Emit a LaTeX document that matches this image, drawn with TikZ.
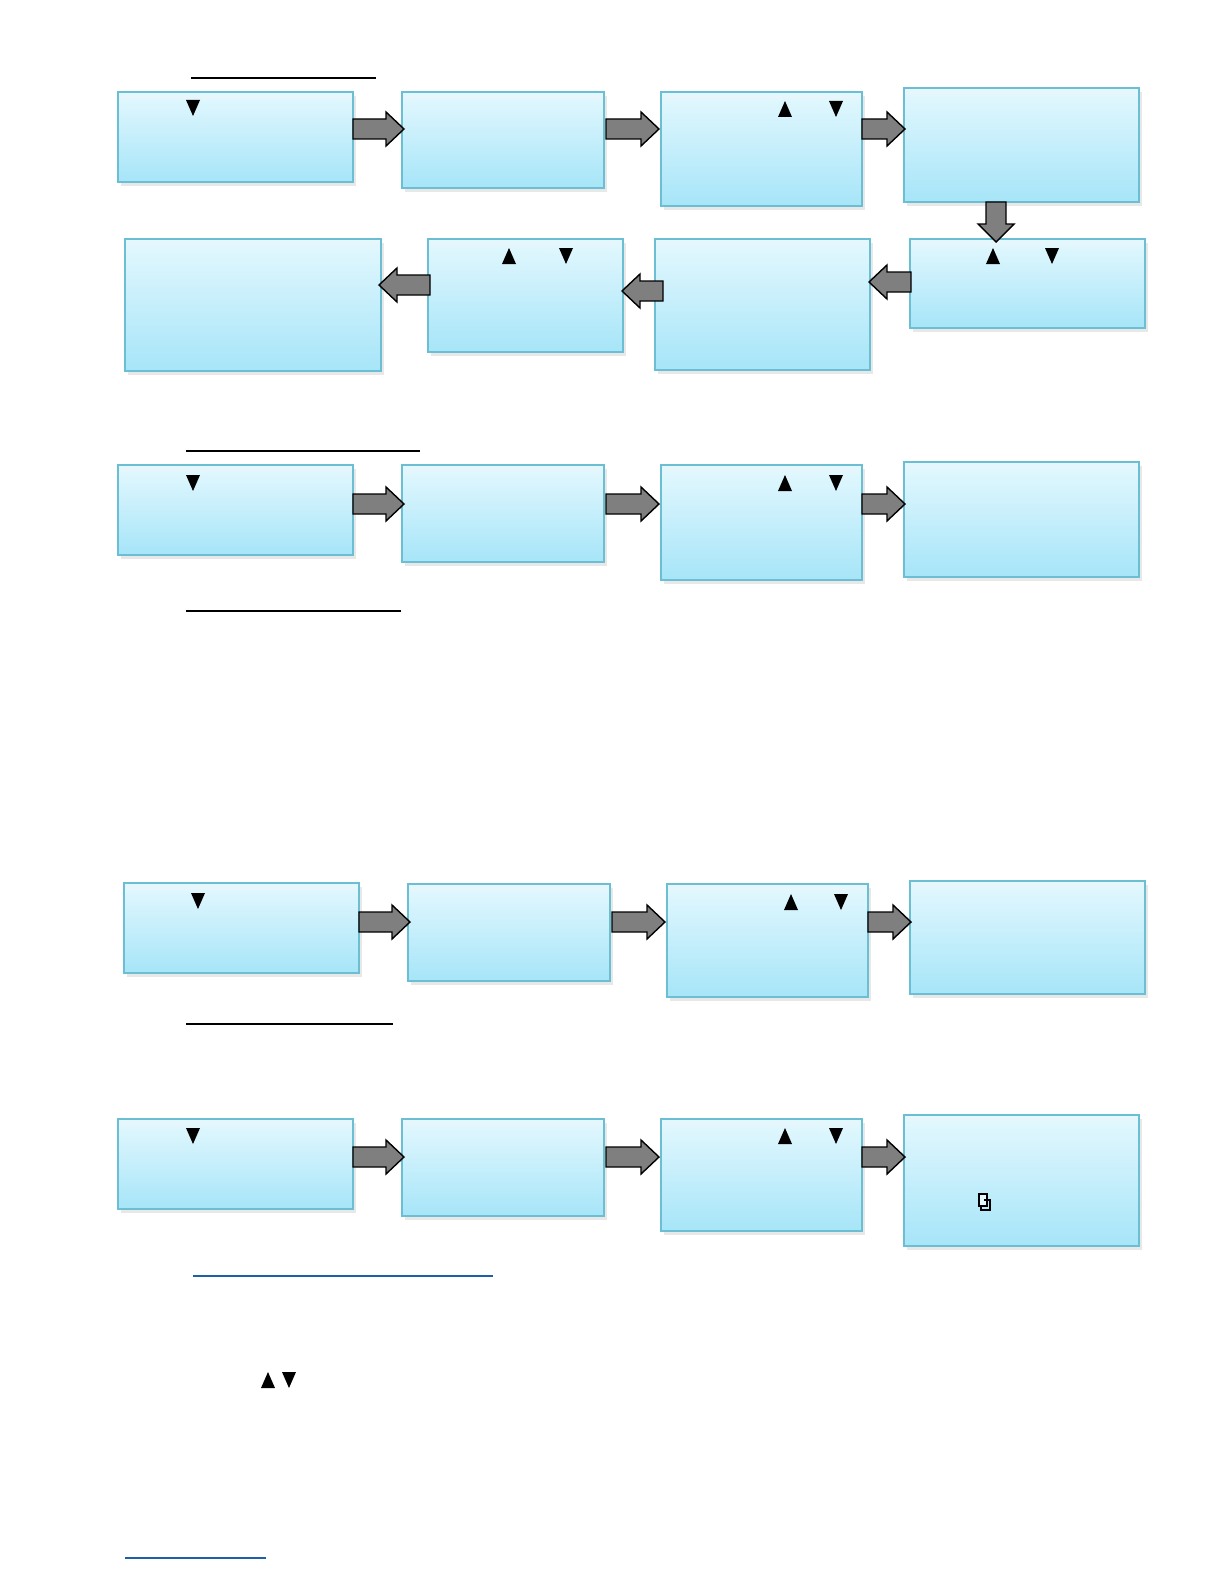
\documentclass[tikz,border=0pt]{standalone}
\usetikzlibrary{shadows}
\definecolor{boxtop}{HTML}{E4F8FE}
\definecolor{boxbot}{HTML}{A6E5F8}
\definecolor{boxline}{HTML}{6CBFD2}
\definecolor{arrgray}{HTML}{7F7F7F}
\definecolor{linkblue}{HTML}{1F5FA8}
\tikzset{
  screen/.style={draw=boxline, line width=0.9pt, top color=boxtop, bottom color=boxbot,
    drop shadow={shadow xshift=1.5pt, shadow yshift=-2pt, fill=black!15, opacity=0.6}},
  blockarrow/.style={fill=arrgray, draw=black, line width=0.7pt, line join=miter},
  tri/.style={fill=black},
  uline/.style={line width=0.7pt},
}
% box: name, x1,y1,x2,y2
\newcommand\scr[5]{\draw[screen] (#2,#3) rectangle (#4,#5);
  \draw[white!85!boxline, line width=1pt] (#2+2,#3+5) -- (#4-2,#3+5);
  \coordinate (#1) at ({(#2+#4)/2},{(#3+#5)/2});}
\newcommand\rarr[3]{\draw[blockarrow] (#1,#3-10) -- (#2-18,#3-10) -- (#2-18,#3-17) -- (#2,#3) -- (#2-18,#3+17) -- (#2-18,#3+10) -- (#1,#3+10) -- cycle;}
\newcommand\larr[3]{\draw[blockarrow] (#1,#3-10) -- (#2+18,#3-10) -- (#2+18,#3-17) -- (#2,#3) -- (#2+18,#3+17) -- (#2+18,#3+10) -- (#1,#3+10) -- cycle;}
\newcommand\dtri[2]{\fill[tri] (#1-7,#2-8) -- (#1+7,#2-8) -- (#1,#2+8) -- cycle;}
\newcommand\utri[2]{\fill[tri] (#1-7,#2+8) -- (#1+7,#2+8) -- (#1,#2-8) -- cycle;}
\begin{document}
\begin{tikzpicture}[x=0.5pt,y=-0.5pt]
\useasboundingbox[fill=white] (0,0) rectangle (1224,1584);
% underlines
\draw[uline] (191,78) -- (376,78);
\draw[uline] (186,451) -- (420,451);
\draw[uline] (186,611) -- (401,611);
\draw[uline] (186,1024) -- (393,1024);
\draw[uline,linkblue] (193,1276) -- (493,1276);
\draw[uline,linkblue] (125,1558) -- (266,1558);
% row 1
\scr{a1}{118}{92}{353}{182}
\scr{b1}{402}{92}{604}{188}
\scr{c1}{661}{92}{862}{206}
\scr{d1}{904}{88}{1139}{202}
\scr{e1}{910}{239}{1145}{328}
\scr{f1}{655}{239}{870}{370}
\scr{g1}{428}{239}{623}{352}
\scr{h1}{125}{239}{381}{371}
\rarr{353}{404}{129}
\rarr{606}{659}{129}
\rarr{862}{905}{129}
\draw[blockarrow] (986,202) -- (1006,202) -- (1006,224) -- (1014,224) -- (996,242) -- (978,224) -- (986,224) -- cycle;
\larr{911}{869}{282}
\larr{663}{622}{291}
\larr{430}{379}{285}
\dtri{193}{108}
\utri{785}{109}\dtri{836}{109}
\utri{993}{256}\dtri{1052}{256}
\utri{509}{256}\dtri{566}{256}
% row 3
\scr{a2}{118}{465}{353}{555}
\scr{b2}{402}{465}{604}{562}
\scr{c2}{661}{465}{862}{580}
\scr{d2}{904}{462}{1139}{577}
\rarr{353}{404}{504}
\rarr{606}{659}{504}
\rarr{862}{905}{504}
\dtri{193}{483}
\utri{785}{483}\dtri{836}{483}
% row 4
\scr{a3}{124}{883}{359}{973}
\scr{b3}{408}{884}{610}{981}
\scr{c3}{667}{884}{868}{997}
\scr{d3}{910}{881}{1145}{994}
\rarr{359}{410}{922}
\rarr{612}{665}{922}
\rarr{868}{911}{922}
\dtri{198}{901}
\utri{791}{902}\dtri{841}{902}
% row 5
\scr{a4}{118}{1119}{353}{1209}
\scr{b4}{402}{1119}{604}{1216}
\scr{c4}{661}{1119}{862}{1231}
\scr{d4}{904}{1115}{1139}{1246}
\rarr{353}{404}{1157}
\rarr{606}{659}{1157}
\rarr{862}{905}{1157}
\dtri{193}{1136}
\utri{785}{1136}\dtri{836}{1136}
% copy glyph
\draw[line width=1.2pt, fill=boxtop] (979,1206) rectangle (987,1194);
\draw[line width=1.2pt] (984,1200) -- (990,1200) -- (990,1210) -- (981,1210) -- (981,1206);
% bottom triangles
\utri{268}{1380}\dtri{289}{1380}
\end{tikzpicture}
\end{document}
